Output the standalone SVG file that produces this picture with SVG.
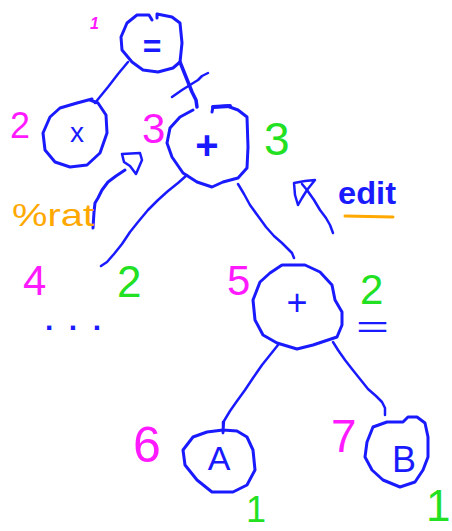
<svg xmlns="http://www.w3.org/2000/svg" width="452" height="531" viewBox="0 0 452 531">
<style>
.ln{fill:none;stroke:#1a1aff;stroke-width:2.5;stroke-linejoin:round;stroke-linecap:round}
.nd{fill:none;stroke:#1a1aff;stroke-width:3;stroke-linejoin:round;stroke-linecap:round}
.lb{fill:#1a1aff;font-family:"Liberation Sans",sans-serif;text-anchor:middle}
.mg{fill:#ff1aff;font-family:"Liberation Sans",sans-serif}
.gr{fill:#22e022;font-family:"Liberation Sans",sans-serif}
.or{fill:#ffa800;font-family:"Liberation Sans",sans-serif}
.bl{fill:#1a1aff;font-family:"Liberation Sans",sans-serif}
</style>
<rect width="452" height="531" fill="#fff"/>
<g id="connectors">
  <polyline class="ln" points="128,62 118,74 108,87 99,98 95,103"/>
  <polyline class="ln" points="180,62 184,72 188,82 192,92 196,100 197,107" style="stroke-width:3.5"/>
  <polyline class="ln" points="172,97 182,90 190,85 198,80 202,76 208,73"/>
  <polyline class="ln" points="187,175 178,183 168,191 158,200 148,210 138,222 130,232 122,244 114,254 107,262 101,266"/>
  <polyline class="ln" points="238,184 244,194 250,205 258,216 266,227 274,236 282,243 288,249 292,253 294,258"/>
  <polyline class="ln" points="278,345 270,355 262,365 253,378 245,390 237,401 230,411 224,421 223,433"/>
  <polyline class="ln" points="333,342 338,350 345,360 352,369 360,379 368,389 376,396 382,402 385,408 385,415"/>
</g>
<g id="n1">
  <polyline class="nd" points="152,20 149,15 137,15 127,23 121,37 122,50 132,62 143,70 158,72 173,68 180,62 182,43 180,23 172,17 157,14 157,18"/>
  <text class="lb" x="152" y="57" font-size="32" font-weight="bold">=</text>
  <text class="mg" x="90" y="29" font-size="16" font-style="italic" font-weight="bold">1</text>
</g>
<g id="n2">
  <polyline class="nd" points="92,99 77,103 60,108 50,117 43,133 45,150 55,162 70,167 87,165 100,153 107,133 106,115 98,103 90,100"/>
  <text class="lb" x="77" y="142" font-size="28">x</text>
  <text class="mg" x="10" y="138" font-size="36">2</text>
</g>
<g id="n3">
  <polyline class="nd" points="193,110 180,117 170,128 167,143 172,157 183,173 197,182 212,187 223,182 238,178 247,168 248,147 247,117 238,110 227,106 213,107 212,112"/>
  <line class="nd" x1="213" y1="107" x2="230" y2="106" style="stroke-width:4"/>
  <text class="lb" x="207" y="159" font-size="40" font-weight="bold">+</text>
  <text class="mg" x="142" y="143" font-size="42">3</text>
  <text class="gr" x="264" y="155" font-size="46">3</text>
</g>
<g id="n4">
  <text class="mg" x="23" y="295" font-size="42">4</text>
  <text class="gr" x="117" y="297" font-size="44">2</text>
  <text class="bl" x="45" y="330" font-size="30" font-weight="bold" textLength="56" lengthAdjust="spacing">...</text>
</g>
<g id="n5">
  <polyline class="nd" points="283,265 305,265 320,272 332,285 335,300 342,312 342,325 337,337 313,345 297,349 277,343 263,335 255,320 253,300 260,282 270,273 282,265"/>
  <text class="lb" x="297" y="315" font-size="36">+</text>
  <text class="mg" x="227" y="295" font-size="42">5</text>
  <text class="gr" x="360" y="304" font-size="42">2</text>
  <text class="bl" x="356" y="337" font-size="30" textLength="33" lengthAdjust="spacingAndGlyphs">=</text>
</g>
<g id="n6">
  <polyline class="nd" points="223,430 207,432 193,437 183,450 185,465 197,480 212,492 233,492 247,485 255,470 253,450 247,437 237,431 223,430"/>
  <line class="ln" x1="223" y1="422" x2="223" y2="433"/>
  <text class="lb" x="219" y="470" font-size="34">A</text>
  <text class="mg" x="133" y="462" font-size="50">6</text>
  <text class="gr" x="246" y="522" font-size="36">1</text>
</g>
<g id="n7">
  <polyline class="nd" points="387,422 373,427 367,442 365,457 372,470 383,480 400,487 415,482 423,470 428,457 428,437 425,423 417,417 408,417 403,422 397,422 387,422"/>
  <text class="lb" x="404" y="472" font-size="36">B</text>
  <text class="mg" x="331" y="452" font-size="46">7</text>
  <text class="gr" x="426" y="521" font-size="44">1</text>
</g>
<g id="annotations">
  <polyline class="ln" points="125,170 116,176 108,182 102,190 98,198 95,203 94,212 93,228" style="stroke-width:3"/>
  <polyline class="ln" points="122,154 140,153 142,160 136,174 130,166 124,162 122,154"/>
  <text class="or" x="12" y="226" font-size="32" textLength="82" lengthAdjust="spacingAndGlyphs">%rat</text>
  <polyline class="ln" points="333,233 330,225 326,218 320,210 314,200 307,190 302,184"/>
  <polyline class="ln" points="298,205 295,195 294,183 305,181 315,180 307,190 302,198 298,205"/>
  <text class="bl" x="338" y="204" font-size="32" font-weight="bold" textLength="58" lengthAdjust="spacingAndGlyphs">edit</text>
  <line x1="345" y1="216" x2="393" y2="217" stroke="#ffa800" stroke-width="3" stroke-linecap="round"/>
</g>
</svg>
